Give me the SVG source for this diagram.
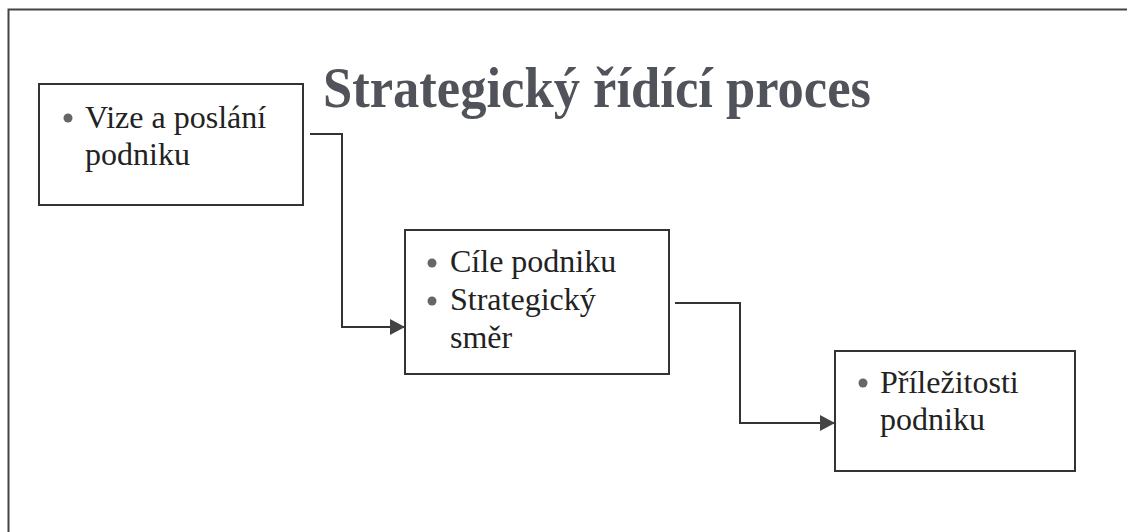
<svg xmlns="http://www.w3.org/2000/svg" width="1127" height="532" viewBox="0 0 1127 532">
<style>
.box{fill:#fff;stroke:#333;stroke-width:2}
.t{font-family:"Liberation Serif","Times New Roman",serif;font-size:32px;fill:#222}
.b{fill:#666}
.con{fill:none;stroke:#333;stroke-width:2}
.title{font-family:"Liberation Serif","Times New Roman",serif;font-size:56px;font-weight:bold;fill:#50535a}
</style>
<defs>
<marker id="arr" viewBox="0 0 15 16" refX="15" refY="8" markerWidth="15" markerHeight="16" markerUnits="userSpaceOnUse" orient="auto">
<path d="M0,0 L15,8 L0,16 Z" fill="#444"/>
</marker>
</defs>
<rect width="1127" height="532" fill="#fff"/>
<path d="M8.5,532 V9.5 H1127" fill="none" stroke="#444" stroke-width="2"/>
<text class="title" x="323" y="107" textLength="548" lengthAdjust="spacingAndGlyphs">Strategický řídící proces</text>
<g id="connectors">
<path class="con" d="M310,134 H342 V327 H405" marker-end="url(#arr)"/>
<path class="con" d="M675,303 H740 V423 H835" marker-end="url(#arr)"/>
</g>
<g id="n1">
<rect class="box" x="39" y="84" width="264" height="121"/>
<circle class="b" cx="68" cy="118" r="4.5"/>
<text class="t" x="85" y="128">Vize a poslání</text>
<text class="t" x="85" y="165">podniku</text>
</g>
<g id="n2">
<rect class="box" x="405" y="230" width="264" height="144"/>
<circle class="b" cx="432" cy="263" r="4.5"/>
<text class="t" x="450" y="272">Cíle podniku</text>
<circle class="b" cx="432" cy="301" r="4.5"/>
<text class="t" x="450" y="310">Strategický</text>
<text class="t" x="450" y="348">směr</text>
</g>
<g id="n3">
<rect class="box" x="835" y="351" width="240" height="120"/>
<circle class="b" cx="863" cy="383" r="4.5"/>
<text class="t" x="880" y="393">Příležitosti</text>
<text class="t" x="880" y="430">podniku</text>
</g>
</svg>
